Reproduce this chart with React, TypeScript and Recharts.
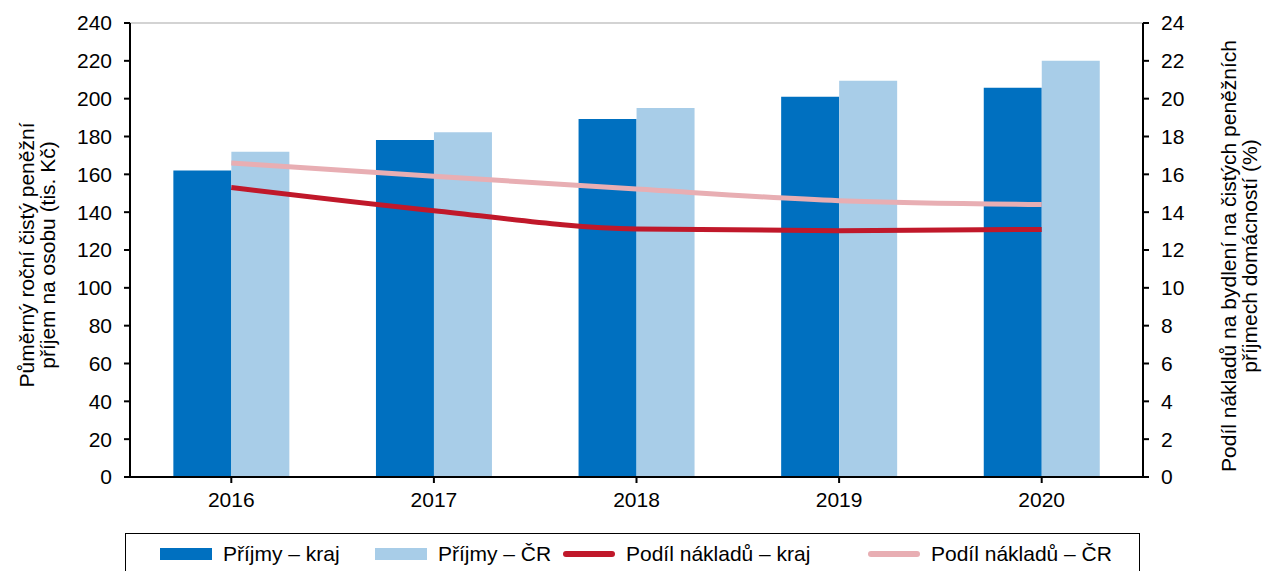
import { Bar, CartesianGrid, ComposedChart, Line, XAxis, YAxis } from "recharts";

const YEARS = ["2016", "2017", "2018", "2019", "2020"];
const PRIJMY_KRAJ = [162, 178.1, 189.3, 201, 205.8];
const PRIJMY_CR = [172, 182.2, 195.1, 209.5, 220];
const PODIL_KRAJ = [15.3, 14.08, 13.11, 13.02, 13.09];
const PODIL_CR = [16.6, 15.9, 15.22, 14.61, 14.41];
const LEFT_TICKS = [0, 20, 40, 60, 80, 100, 120, 140, 160, 180, 200, 220, 240];
const RIGHT_TICKS = [0, 2, 4, 6, 8, 10, 12, 14, 16, 18, 20, 22, 24];

const C_KRAJ = "#0070c0";
const C_CR = "#a8cde8";
const C_PODIL_KRAJ = "#c0182a";
const C_PODIL_CR = "#e8aeb3";
const FONT = "'Liberation Sans', Arial, sans-serif";

const data = YEARS.map((y, i) => ({
  year: y,
  prijmyKraj: PRIJMY_KRAJ[i],
  prijmyCr: PRIJMY_CR[i],
  podilKraj: PODIL_KRAJ[i],
  podilCr: PODIL_CR[i],
}));

const tickStyle = { fontSize: 21, fill: "#000", fontFamily: FONT };

function LeftLabel({ viewBox }: any) {
  const cy = viewBox.y + viewBox.height / 2 + 5;
  return (
    <text transform={`translate(34, ${cy}) rotate(-90)`} textAnchor="middle" fontSize={21} fontFamily={FONT} fill="#000">
      <tspan x={0} dy={0}>Půměrný roční čistý peněžní</tspan>
      <tspan x={0} dy={21}>příjem na osobu (tis. Kč)</tspan>
    </text>
  );
}

function RightLabel({ viewBox }: any) {
  const cy = viewBox.y + viewBox.height / 2 + 6;
  return (
    <text transform={`translate(1236, ${cy}) rotate(-90)`} textAnchor="middle" fontSize={21} fontFamily={FONT} fill="#000">
      <tspan x={0} dy={0}>Podíl nákladů na bydlení na čistých peněžních</tspan>
      <tspan x={0} dy={21}>příjmech domácností (%)</tspan>
    </text>
  );
}

const legendItems = [
  { label: "Příjmy – kraj", color: C_KRAJ, kind: "bar", left: 159 },
  { label: "Příjmy – ČR", color: C_CR, kind: "bar", left: 374 },
  { label: "Podíl nákladů – kraj", color: C_PODIL_KRAJ, kind: "line", left: 562 },
  { label: "Podíl nákladů – ČR", color: C_PODIL_CR, kind: "line", left: 867 },
];

export default function App() {
  return (
    <div style={{ position: "absolute", left: 0, top: 0, width: 1263, height: 571, background: "#fff", overflow: "hidden" }}>
      <ComposedChart
        width={1263}
        height={571}
        data={data}
        margin={{ top: 23, right: 0, left: 0, bottom: 64 }}
        barCategoryGap="21.4%"
        barGap={0}
      >
        <CartesianGrid vertical={false} stroke="#c4c4c4" strokeWidth={1.5} />
        <XAxis
          dataKey="year"
          height={30}
          tick={tickStyle}
          tickSize={6}
          tickMargin={9}
          axisLine={{ stroke: "#000", strokeWidth: 2 }}
          tickLine={{ stroke: "#000", strokeWidth: 2 }}
          interval={0}
        />
        <XAxis xAxisId="top" orientation="top" dataKey="year" height={0} tick={false} tickLine={false} axisLine={{ stroke: "#000", strokeWidth: 2 }} />
        <YAxis
          yAxisId="left"
          width={130}
          domain={[0, 240]}
          ticks={LEFT_TICKS}
          interval={0}
          tick={tickStyle}
          tickSize={6}
          tickMargin={12}
          axisLine={{ stroke: "#000", strokeWidth: 2 }}
          tickLine={{ stroke: "#000", strokeWidth: 2 }}
          label={<LeftLabel />}
        />
        <YAxis
          yAxisId="right"
          orientation="right"
          width={120}
          domain={[0, 24]}
          ticks={RIGHT_TICKS}
          interval={0}
          tick={{ ...tickStyle, textAnchor: "start" }}
          tickSize={6}
          tickMargin={12}
          axisLine={{ stroke: "#000", strokeWidth: 2 }}
          tickLine={{ stroke: "#000", strokeWidth: 2 }}
          label={<RightLabel />}
        />
        <Bar yAxisId="left" dataKey="prijmyKraj" fill={C_KRAJ} isAnimationActive={false} />
        <Bar yAxisId="left" dataKey="prijmyCr" fill={C_CR} isAnimationActive={false} />
        <Line yAxisId="right" type="monotone" dataKey="podilCr" stroke={C_PODIL_CR} strokeWidth={5} dot={false} isAnimationActive={false} />
        <Line yAxisId="right" type="monotone" dataKey="podilKraj" stroke={C_PODIL_KRAJ} strokeWidth={5} dot={false} isAnimationActive={false} />
      </ComposedChart>
      <div
        style={{
          position: "absolute",
          left: 125,
          top: 533,
          width: 1015,
          height: 60,
          border: "1.5px solid #000",
          boxSizing: "border-box",
          fontFamily: FONT,
          fontSize: 21,
        }}
      >
        {legendItems.map((it) => (
          <div key={it.label} style={{ position: "absolute", left: it.left - 125, top: 8, display: "flex", alignItems: "center", whiteSpace: "nowrap" }}>
            <span
              style={{
                display: "inline-block",
                width: 52,
                height: it.kind === "bar" ? 12 : 6,
                borderRadius: it.kind === "bar" ? 0 : 3,
                background: it.color,
                marginRight: 11,
              }}
            />
            <span>{it.label}</span>
          </div>
        ))}
      </div>
    </div>
  );
}
